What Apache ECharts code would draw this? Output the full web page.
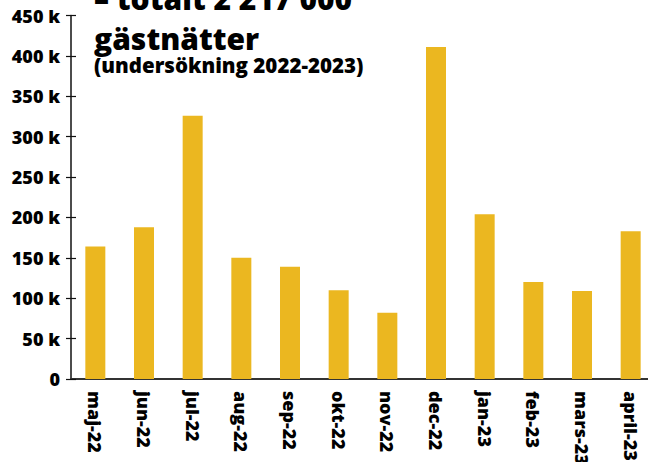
<!DOCTYPE html>
<html>
<head>
<meta charset="utf-8">
<script src="https://cdn.jsdelivr.net/npm/echarts@6/dist/echarts.min.js"></script>
<style>
  html, body { margin: 0; padding: 0; background: #fff; }
  #chart { width: 648px; height: 462px; }
</style>
</head>
<body>
<div id="chart"></div>
<script>
const months = ['maj-22', 'jun-22', 'jul-22', 'aug-22', 'sep-22', 'okt-22', 'nov-22', 'dec-22', 'jan-23', 'feb-23', 'mars-23', 'april-23'];
const guestNights = [164000, 188000, 326000, 150000, 139000, 110000, 82000, 411000, 204000, 120000, 109000, 183000];
const titleLines = ['– totalt 2 217 000', 'gästnätter'];
const subTitle = '(undersökning 2022-2023)';

const font = '"Open Sans", sans-serif';
const chart = echarts.init(document.getElementById('chart'), null, { renderer: 'svg' });

const yBase = {
  type: 'value',
  min: 0,
  max: 450000,
  interval: 50000,
  position: 'left',
  splitLine: { show: false }
};

chart.setOption({
  animation: false,
  textStyle: { fontFamily: font },
  title: {
    text: titleLines.join('\n'),
    subtext: subTitle,
    left: 89,
    top: -27,
    itemGap: -4,
    textStyle: { fontFamily: font, fontWeight: 800, fontSize: 30, lineHeight: 40, color: '#000' },
    subtextStyle: { fontFamily: font, fontWeight: 800, fontSize: 20.5, color: '#000' }
  },
  grid: { left: 71, right: -7, top: 15.5, bottom: 83, containLabel: false, outerBoundsMode: 'none' },
  xAxis: {
    type: 'category',
    data: months,
    axisLine: { lineStyle: { color: '#333', width: 2 } },
    axisTick: { show: false },
    axisLabel: {
      rotate: -90,
      interval: 0,
      margin: 12,
      color: '#000',
      fontWeight: 800,
      fontSize: 18,
      fontFamily: font
    }
  },
  yAxis: [
    Object.assign({}, yBase, {
      axisLine: { show: true, lineStyle: { color: '#111', width: 1.5 } },
      axisTick: { show: true, length: 5, lineStyle: { color: '#111', width: 1.2 } },
      axisLabel: {
        margin: 11,
        color: '#000',
        fontWeight: 800,
        fontSize: 18,
        fontFamily: font,
        formatter: v => v === 0 ? '0' : (v / 1000) + ' k'
      }
    }),
    Object.assign({}, yBase, {
      axisLine: { show: false },
      axisTick: { show: true, inside: true, length: 5, lineStyle: { color: '#111', width: 1.2 } },
      axisLabel: { show: false }
    })
  ],
  series: [{
    type: 'bar',
    data: guestNights,
    barWidth: 20,
    itemStyle: { color: '#EBB720' }
  }]
});
</script>
</body>
</html>
